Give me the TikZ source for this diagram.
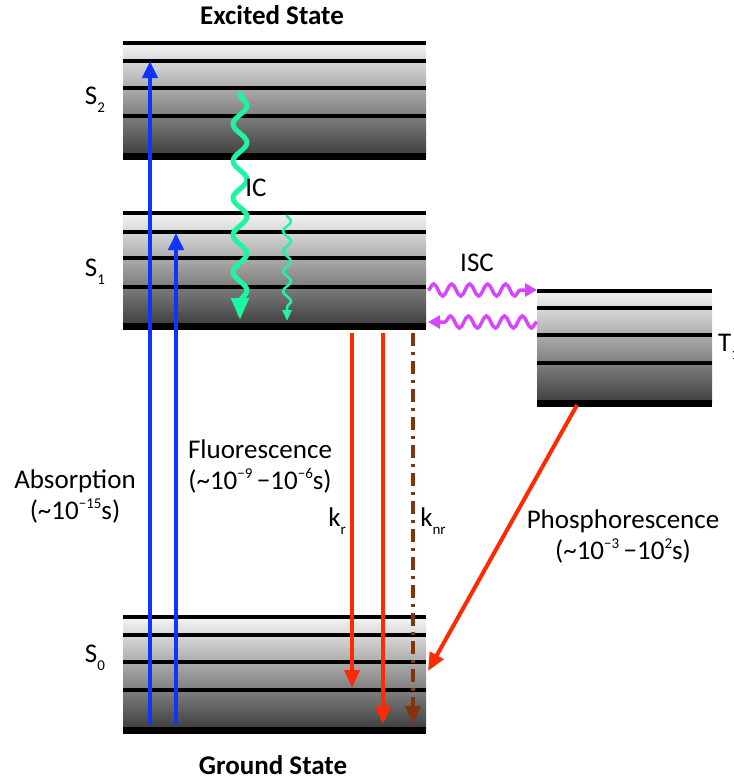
\documentclass[tikz,border=0pt]{standalone}
\usepackage{fontspec}
\setmainfont{Carlito}
\usetikzlibrary{arrows.meta,decorations.pathmorphing}
\definecolor{absblue}{RGB}{16,52,255}
\definecolor{icgreen}{RGB}{30,245,160}
\definecolor{emred}{RGB}{255,42,0}
\definecolor{nrbrown}{RGB}{130,52,10}
\definecolor{iscmag}{RGB}{214,70,255}
\newcommand\levelset[7]{%
  \shade[top color=black!4,bottom color=black!76] (#1,#3) rectangle (#2,#7);
  \foreach \yy in {#3,#4,#5,#6} \draw[lvl] (#1,\yy) -- (#2,\yy);
  \draw[lvl,line width=7pt] (#1,#7) -- (#2,#7);}
\newcommand\sub[2]{#1\raisebox{-0.6ex}{\fontsize{15}{15}\selectfont #2}}
\newcommand\tsup[1]{\raisebox{0.8ex}{\fontsize{15}{15}\selectfont #1}}
\begin{document}
\begin{tikzpicture}[x=1pt,y=-1pt,
  lvl/.style={line width=4.5pt,black},
  lab/.style={font=\fontsize{27}{31}\selectfont,inner sep=0pt,align=center},
  title/.style={font=\fontsize{27}{31}\selectfont\bfseries,inner sep=0pt},
  absarrow/.style={absblue,line width=4pt,-{Triangle[width=15pt,length=17pt]}},
  emarrow/.style={emred,line width=4pt,-{Triangle[width=15pt,length=18pt]}},
  nrarrow/.style={nrbrown,line width=3.5pt,dash pattern=on 13pt off 6pt on 3pt off 6pt,-{Triangle[width=15pt,length=18pt]}},
  icthick/.style={icgreen,line width=5pt,decorate,decoration={snake,amplitude=7pt,segment length=37pt,pre length=2pt,post length=16pt},-{Triangle[width=17pt,length=22pt]}},
  icthin/.style={icgreen,line width=2.5pt,decorate,decoration={snake,amplitude=4pt,segment length=20pt,post length=8pt},-{Triangle[width=9pt,length=11pt]}},
  iscwave/.style={iscmag,line width=3.5pt,decorate,decoration={snake,amplitude=6pt,segment length=18pt,post length=8pt},-{Triangle[width=13pt,length=12pt]}}]
\useasboundingbox (0,0) rectangle (734,780);
% energy level stacks
\levelset{123}{426}{43}{61}{88}{116}{156}
\levelset{123}{426}{213}{232}{258}{287}{326}
\levelset{537}{712}{291}{308}{335}{363}{403}
\levelset{123}{426}{617}{635}{662}{690}{730}
% titles and state labels
\node[title] (exc) at (272,15) {Excited State};
\node[title] (gnd) at (273,765) {Ground State};
\node[lab] (s2) at (95,100) {\sub{S}{2}};
\node[lab] (s1) at (95,272) {\sub{S}{1}};
\node[lab] (s0) at (95,658) {\sub{S}{0}};
\node[lab,anchor=west] (t1) at (718,347) {\sub{T}{1}};
% absorption
\coordinate (a1s) at (150,724); \coordinate (a1e) at (150,61);
\coordinate (a2s) at (176,724); \coordinate (a2e) at (176,233);
\draw[absarrow] (a1s) -- (a1e);
\draw[absarrow] (a2s) -- (a2e);
% internal conversion
\coordinate (ic1s) at (240,92); \coordinate (ic1e) at (240,320);
\coordinate (ic2s) at (287,215); \coordinate (ic2e) at (287,321);
\draw[icthick] (ic1s) -- (ic1e);
\draw[icthin] (ic2s) -- (ic2e);
\node[lab] (ic) at (256,188) {IC};
% intersystem crossing
\coordinate (isc1s) at (428,290); \coordinate (isc1e) at (537,290);
\coordinate (isc2s) at (537,322); \coordinate (isc2e) at (428,322);
\draw[iscwave] (isc1s) -- (isc1e);
\draw[iscwave] (isc2s) -- (isc2e);
\node[lab] (isc) at (477,263) {ISC};
% emission
\coordinate (f1s) at (352,333); \coordinate (f1e) at (352,688);
\coordinate (f2s) at (383,333); \coordinate (f2e) at (383,724);
\coordinate (nrs) at (413,333); \coordinate (nre) at (413,724);
\draw[emarrow] (f1s) -- (f1e);
\draw[emarrow] (f2s) -- (f2e);
\draw[nrarrow] (nrs) -- (nre);
\coordinate (ps) at (577,405); \coordinate (pe) at (428,671);
\draw[emarrow] (ps) -- (pe);
% text labels
\node[lab] (abs) at (75,496) {Absorption\\(\textasciitilde10\tsup{−15}s)};
\node[lab] (flu) at (260,466) {Fluorescence\\(\textasciitilde10\tsup{−9}\,−10\tsup{−6}s)};
\node[lab] (kr) at (337,521) {\sub{k}{r}};
\node[lab] (knr) at (433,521) {\sub{k}{nr}};
\node[lab] (pho) at (623,536) {Phosphorescence\\(\textasciitilde10\tsup{−3}\,−10\tsup{2}s)};
\end{tikzpicture}
\end{document}
